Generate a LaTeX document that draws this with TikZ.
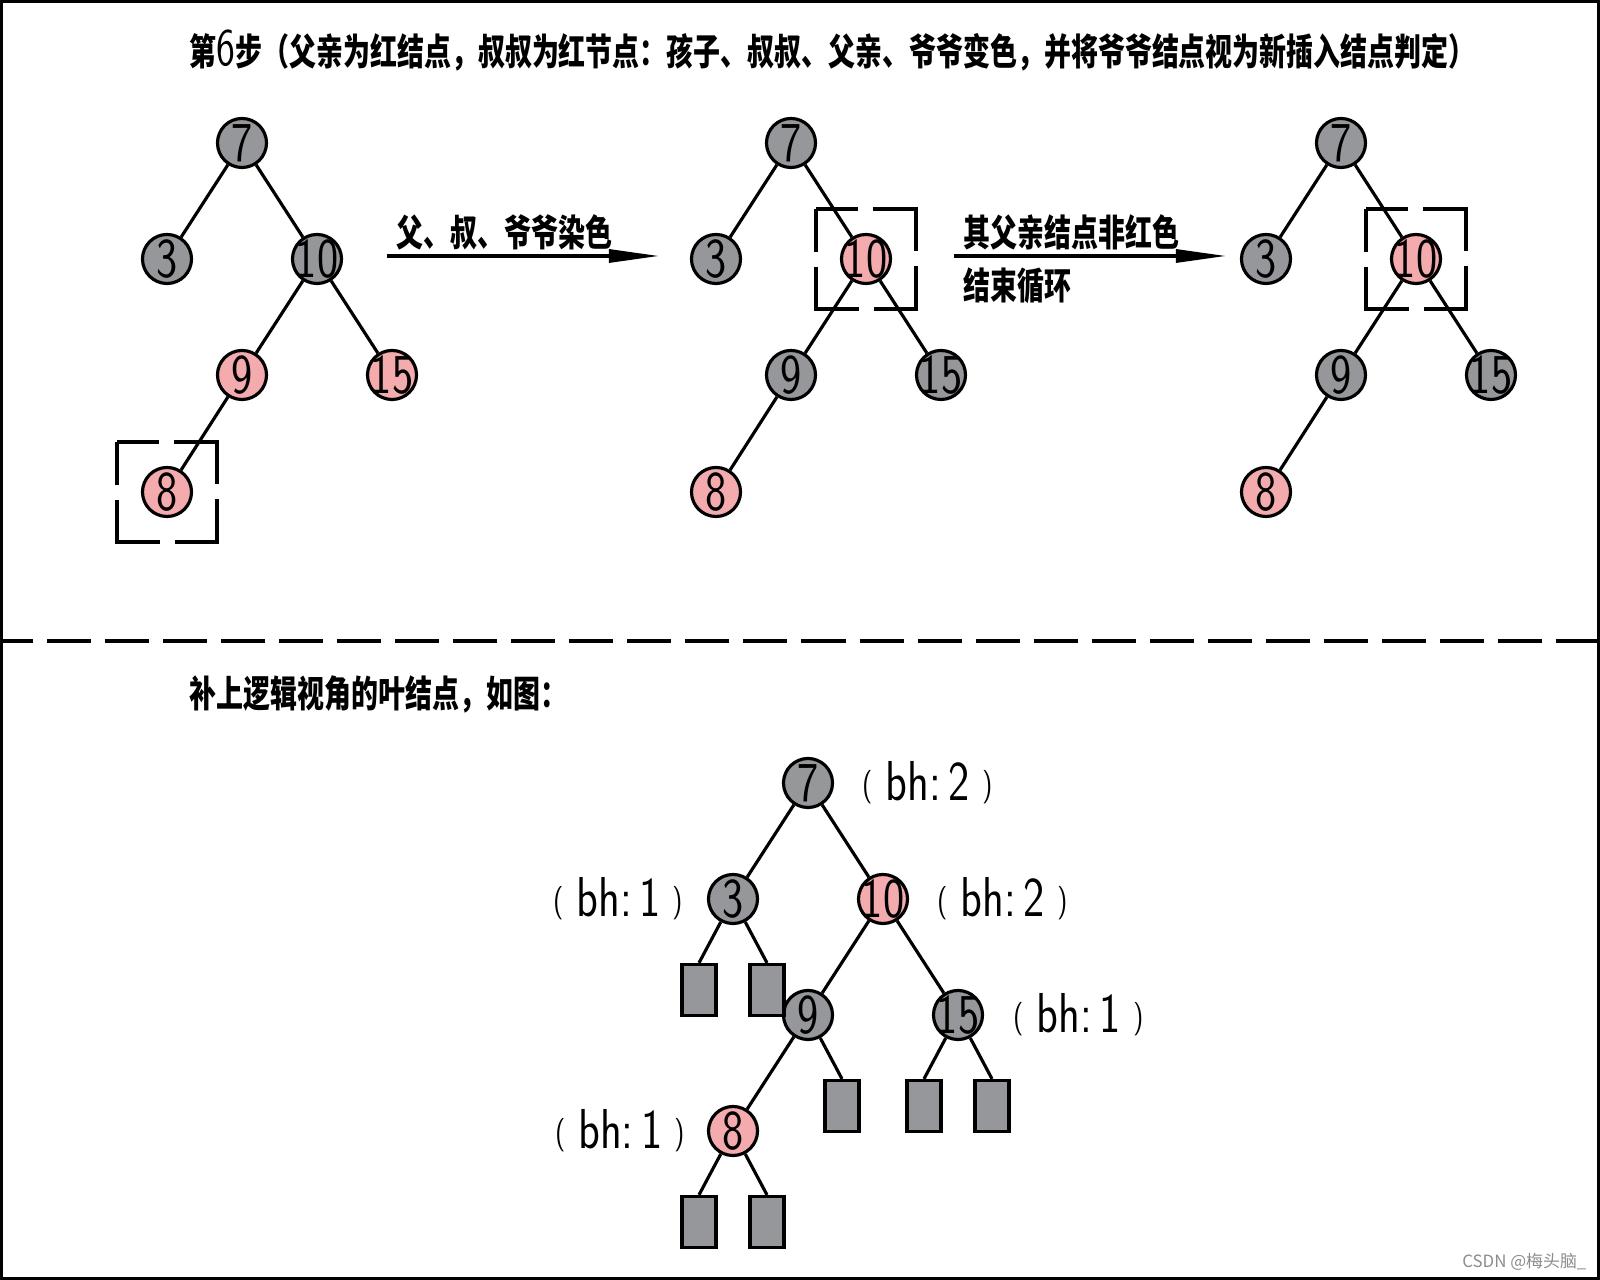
\documentclass[tikz,border=0pt]{standalone}
\usepackage{fontspec}
\newfontfamily\cjk{Noto Sans CJK SC}
\usetikzlibrary{arrows.meta}
\definecolor{NodeGray}{HTML}{96979B}
\definecolor{NodePink}{HTML}{F4ABAE}
\newcommand\narrow[1]{\scalebox{.8}[1]{#1}}
\newcommand\keynum[1]{\smash{\makebox[0pt]{\raisebox{-.5\height}{\narrow{#1}}}}}
\newcommand\zh[1]{\scalebox{.73}[1]{#1}}
\newcommand\bhtag[1]{\narrow{\raisebox{1.5pt}{\fontsize{9.5}{9.5}\selectfont(}\;bh:\,#1\;\raisebox{1.5pt}{\fontsize{9.5}{9.5}\selectfont)}}}
\tikzset{
  frame/.style={draw=black,line width=1pt},
  rb/.style={circle,draw=black,line width=.9pt,minimum size=.49cm,inner sep=0pt,
    font=\sffamily\fontsize{16}{16}\selectfont},
  bnode/.style={rb,fill=NodeGray},
  rnode/.style={rb,fill=NodePink},
  leaf/.style={rectangle,draw=black,line width=.9pt,fill=NodeGray,
    minimum width=.34cm,minimum height=.51cm,inner sep=0pt},
  edge/.style={draw=black,line width=.9pt},
  focus/.style={draw=black,line width=.9pt,dash pattern=on .85cm off .15cm,dash phase=.42cm},
  sep/.style={draw=black,line width=.9pt,dash pattern=on .44cm off .14cm,dash phase=.11cm},
  flow/.style={-{Triangle[length=.5cm,width=.13cm]},draw=black,line width=.9pt},
  figlabel/.style={font=\cjk\bfseries\fontsize{10.5}{12}\selectfont,inner sep=0pt},
  bh/.style={font=\sffamily\fontsize{16}{16}\selectfont,inner sep=0pt}
}

\begin{document}
\begin{tikzpicture}[x=.01cm,y=-.01cm]
  \useasboundingbox (0,0) rectangle (1600,1280);
  \draw[frame] (1.5,1.5) rectangle (1598.5,1278.5);
  \node[figlabel,anchor=west] (title) at (189,51)
    {\zh{第{\sffamily\mdseries\fontsize{15}{15}\selectfont 6}步（父亲为红结点，叔叔为红节点：孩子、叔叔、父亲、爷爷变色，并将爷爷结点视为新插入结点判定）}};

  % before: 8 just inserted
  \node[bnode] (a7) at (242,143) {\keynum{7}};
  \node[bnode] (a3) at (167,259) {\keynum{3}};
  \node[bnode] (a10) at (317,259) {\keynum{10}};
  \node[rnode] (a9) at (242,375) {\keynum{9}};
  \node[rnode] (a15) at (392,375) {\keynum{15}};
  \node[rnode] (a8) at (167,492) {\keynum{8}};

  % after recolouring
  \node[bnode] (b7) at (791,143) {\keynum{7}};
  \node[bnode] (b3) at (716,259) {\keynum{3}};
  \node[rnode] (b10) at (866,259) {\keynum{10}};
  \node[bnode] (b9) at (791,375) {\keynum{9}};
  \node[bnode] (b15) at (941,375) {\keynum{15}};
  \node[rnode] (b8) at (716,492) {\keynum{8}};

  % grandparent as new node
  \node[bnode] (c7) at (1341,143) {\keynum{7}};
  \node[bnode] (c3) at (1266,259) {\keynum{3}};
  \node[rnode] (c10) at (1416,259) {\keynum{10}};
  \node[bnode] (c9) at (1341,375) {\keynum{9}};
  \node[bnode] (c15) at (1491,375) {\keynum{15}};
  \node[rnode] (c8) at (1266,492) {\keynum{8}};

  % with the nil leaves
  \node[bnode] (d7) at (808,783) {\keynum{7}};
  \node[bnode] (d3) at (733,899) {\keynum{3}};
  \node[rnode] (d10) at (883,899) {\keynum{10}};
  \node[bnode] (d9) at (808,1015) {\keynum{9}};
  \node[bnode] (d15) at (958,1015) {\keynum{15}};
  \node[rnode] (d8) at (733,1131) {\keynum{8}};

  \foreach \t in {a,b,c,d}
    \foreach \p/\c in {7/3,7/10,10/9,10/15,9/8}
      \draw[edge] (\t\p) -- (\t\c);

  \draw[focus] (a8) ++(-50,-50) rectangle ++(100,100);
  \draw[focus] (b10) ++(-50,-50) rectangle ++(100,100);
  \draw[focus] (c10) ++(-50,-50) rectangle ++(100,100);

  \coordinate (s1) at (387,256);
  \coordinate (e1) at (659,256);
  \draw[flow] (s1) -- (e1);
  \node[figlabel,anchor=west] (t1) at (396,232) {\zh{父、叔、爷爷染色}};
  \coordinate (s2) at (954,256);
  \coordinate (e2) at (1226,256);
  \draw[flow] (s2) -- (e2);
  \node[figlabel,anchor=west] (t2) at (963,232) {\zh{其父亲结点非红色}};
  \node[figlabel,anchor=west] (t3) at (963,286) {\zh{结束循环}};

  \draw[sep] (0,641) -- (1600,641);

  \node[figlabel,anchor=west] (note) at (189,694) {\zh{补上逻辑视角的叶结点，如图：}};

  \node[leaf] (l1) at (699,990) {};
  \node[leaf] (l2) at (767,990) {};
  \node[leaf] (l3) at (842,1106) {};
  \node[leaf] (l4) at (924,1106) {};
  \node[leaf] (l5) at (992,1106) {};
  \node[leaf] (l6) at (699,1222) {};
  \node[leaf] (l7) at (767,1222) {};
  \foreach \p/\c in {d3/l1,d3/l2,d9/l3,d15/l4,d15/l5,d8/l6,d8/l7}
    \draw[edge] (\p) -- (\c.north);

  \node[bh,anchor=west] (h7) at (862,783) {\bhtag{2}};
  \node[bh,anchor=east] (h3) at (684,899) {\bhtag{1}};
  \node[bh,anchor=west] (h10) at (937,899) {\bhtag{2}};
  \node[bh,anchor=west] (h15) at (1013,1015) {\bhtag{1}};
  \node[bh,anchor=east] (h8) at (686,1131) {\bhtag{1}};

  \node[anchor=east,inner sep=0pt,text=black!45,font=\cjk\fontsize{4.8}{6}\selectfont]
    (mark) at (1587,1262) {CSDN @梅头脑\_};
\end{tikzpicture}
\end{document}
